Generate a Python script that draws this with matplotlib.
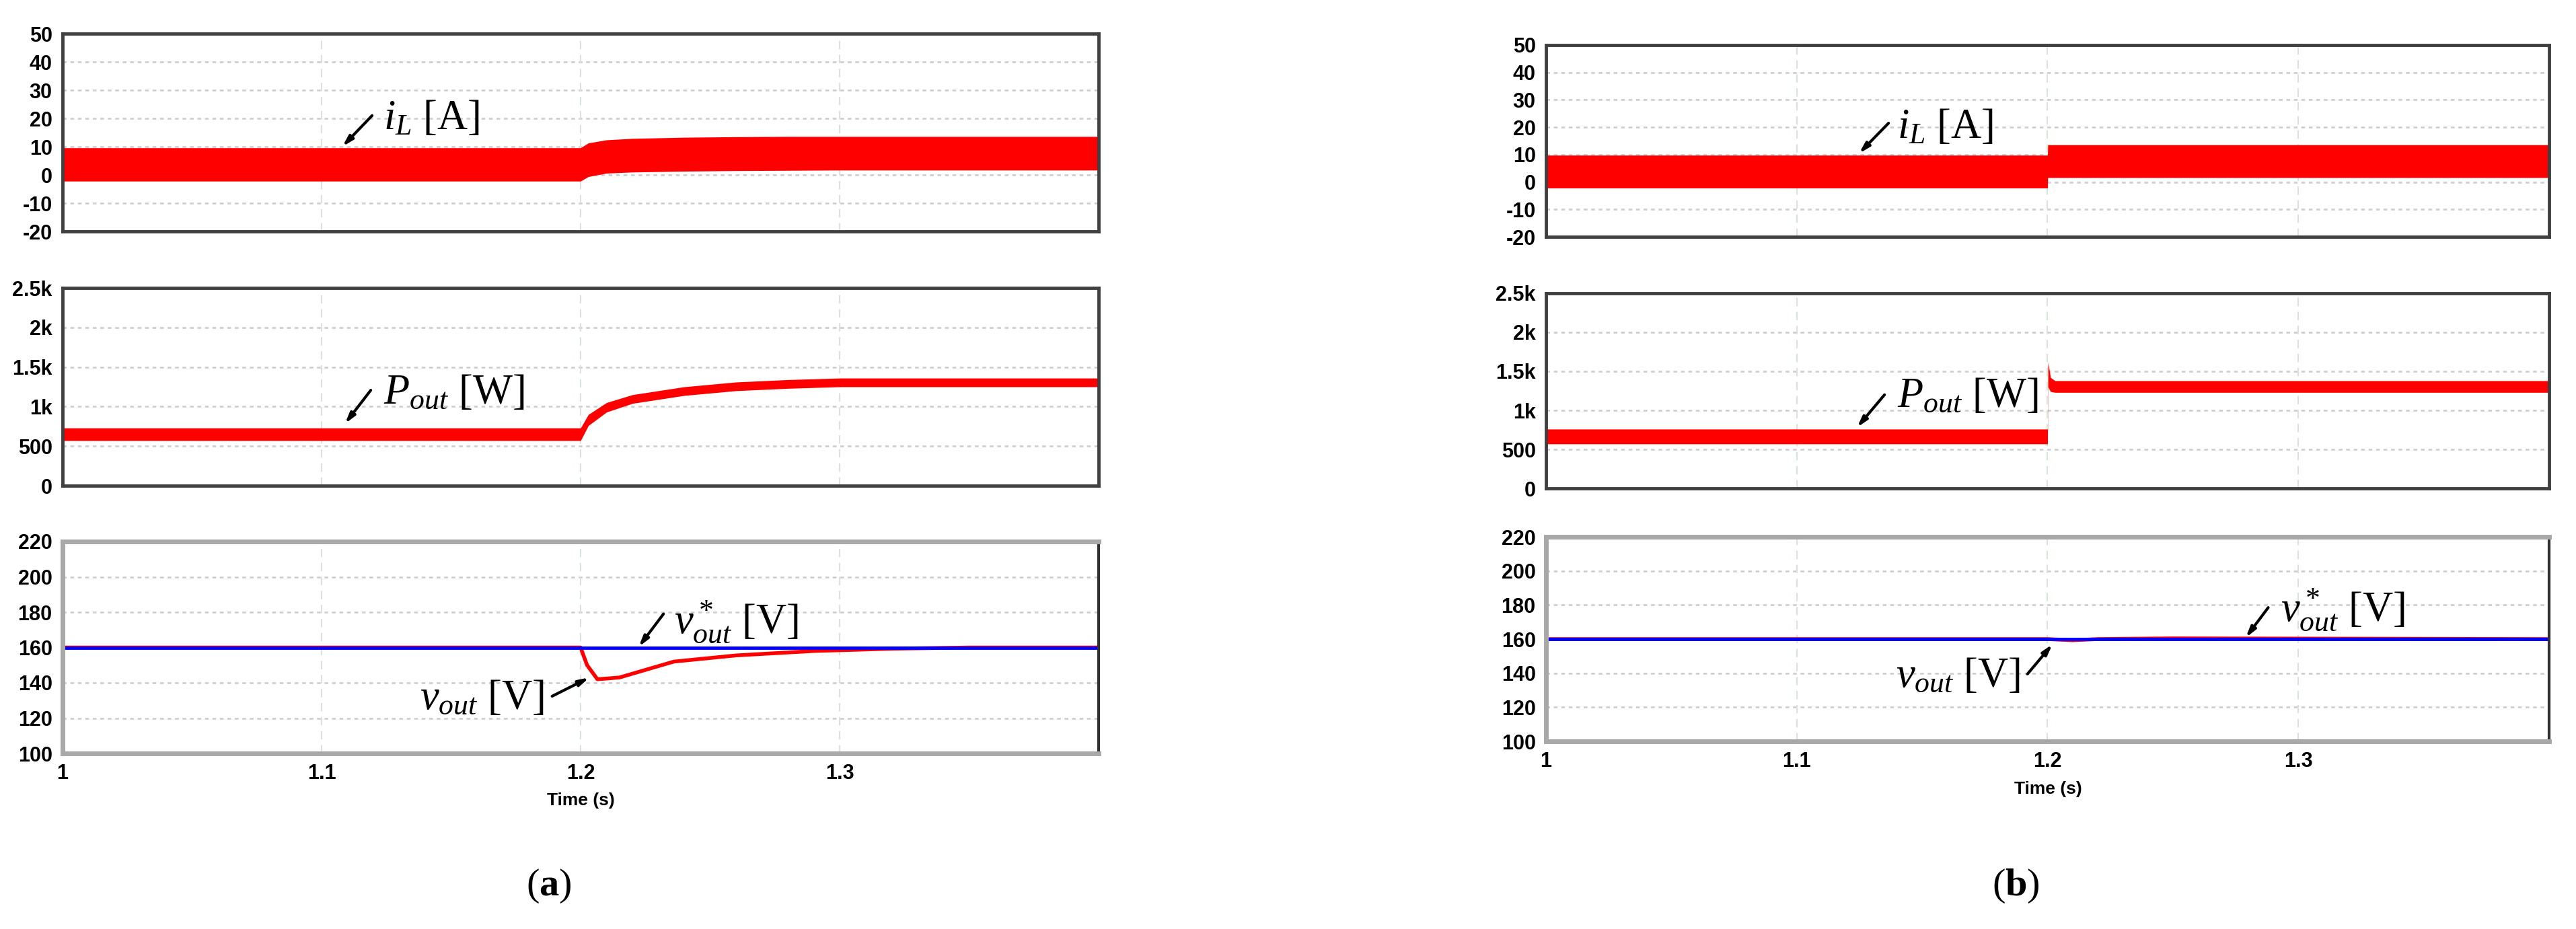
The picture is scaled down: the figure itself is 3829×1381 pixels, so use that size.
import matplotlib
matplotlib.use("Agg")
import matplotlib.pyplot as plt

plt.rcParams['mathtext.fontset'] = 'custom'
plt.rcParams['mathtext.rm'] = 'Liberation Serif'
plt.rcParams['mathtext.it'] = 'Liberation Serif:italic'
plt.rcParams['mathtext.bf'] = 'Liberation Serif:bold'

# ---- data ----
# (a) slow response
t_a = [1.0, 1.2, 1.203, 1.21, 1.22, 1.24, 1.26, 1.28, 1.30, 1.4]
iL_a_hi = [9.6, 9.6, 11.3, 12.4, 12.9, 13.3, 13.5, 13.6, 13.6, 13.6]
iL_a_lo = [-2.2, -2.2, -0.6, 0.6, 1.0, 1.3, 1.5, 1.6, 1.7, 1.7]
P_a_hi = [730, 730, 900, 1050, 1150, 1250, 1310, 1340, 1360, 1360]
P_a_lo = [570, 570, 760, 930, 1040, 1140, 1200, 1230, 1250, 1250]

t_va = [1.0, 1.2, 1.2025, 1.2065, 1.215, 1.236, 1.26, 1.29, 1.32, 1.35, 1.4]
vout_a = [160, 160, 150, 142, 143, 152, 155.5, 158, 159.3, 160, 160]

# (b) fast response
t_b = [1.0, 1.2, 1.2001, 1.4]
iL_b_hi = [9.8, 9.8, 13.6, 13.6]
iL_b_lo = [-2.2, -2.2, 1.6, 1.6]
t_Pb = [1.0, 1.2, 1.2002, 1.2012, 1.203, 1.4]
P_b_hi = [760, 760, 1620, 1420, 1380, 1380]
P_b_lo = [570, 570, 1300, 1240, 1230, 1230]

t_vb = [1.0, 1.2, 1.21, 1.22, 1.25, 1.4]
vout_b = [160, 160, 159.3, 160, 160.4, 160]

t_ref = [1.0, 1.4]
vref = [160, 160]

iL_ticks = [-20, -10, 0, 10, 20, 30, 40, 50]
iL_labels = ['-20', '-10', '0', '10', '20', '30', '40', '50']
P_ticks = [0, 500, 1000, 1500, 2000, 2500]
P_labels = ['0', '500', '1k', '1.5k', '2k', '2.5k']
v_ticks = [100, 120, 140, 160, 180, 200, 220]
v_labels = ['100', '120', '140', '160', '180', '200', '220']
t_ticks = [1.0, 1.1, 1.2, 1.3]
t_labels = ['1', '1.1', '1.2', '1.3']

W, H = 3830, 1381
fig = plt.figure(figsize=(W / 100, H / 100), dpi=100)

def box(x0, x1, y0, y1):
    return [x0 / W, 1 - y1 / H, (x1 - x0) / W, (y1 - y0) / H]

tick_font = dict(family='Liberation Sans', weight='bold', size=22)
ann_font = dict(family='Liberation Serif', size=45)

def setup(ax, yt, yl, ylim, bottom=False):
    ax.set_xlim(1.0, 1.4)
    ax.set_ylim(*ylim)
    ax.set_yticks(yt)
    ax.set_yticklabels(yl, **tick_font)
    ax.set_xticks(t_ticks)
    if bottom:
        ax.set_xticklabels(t_labels, **tick_font)
    else:
        ax.set_xticklabels([])
    ax.tick_params(length=0, pad=11)
    for y in yt[1:-1]:
        ax.axhline(y, color='#cfcfcf', lw=2, ls=(0, (2, 2)), zorder=0)
    for x in t_ticks[1:]:
        ax.axvline(x, color='#d8e4d8', lw=1.5, ls=(0, (6, 4)), zorder=0)
    if bottom:
        for s in ['top', 'bottom', 'left']:
            ax.spines[s].set_color('#a8a8a8')
            ax.spines[s].set_linewidth(5)
        ax.spines['right'].set_color('#303030')
        ax.spines['right'].set_linewidth(3)
    else:
        for s in ax.spines.values():
            s.set_color('#404040')
            s.set_linewidth(3.5)

def arrow(ax, head, tail):
    ax.annotate('', xy=head, xytext=tail,
                arrowprops=dict(arrowstyle='-|>,head_length=0.9,head_width=0.25',
                                color='black', lw=3, shrinkA=0, shrinkB=0))

# ---------- panel (a) ----------
ax1 = fig.add_axes(box(93, 1633, 50, 344))
setup(ax1, iL_ticks, iL_labels, (-20, 50))
ax1.fill_between(t_a, iL_a_lo, iL_a_hi, color='red', lw=0)
arrow(ax1, (1.108, 10), (1.1195, 21))
ax1.text(1.124, 16.3, r'$i_L$ [A]', va='baseline', ha='left', **ann_font)

ax2 = fig.add_axes(box(93, 1633, 428, 722))
setup(ax2, P_ticks, P_labels, (0, 2500))
ax2.fill_between(t_a, P_a_lo, P_a_hi, color='red', lw=0)
arrow(ax2, (1.109, 782), (1.119, 1207))
ax2.text(1.124, 1040, r'$P_{out}$ [W]', va='baseline', ha='left', **ann_font)

ax3 = fig.add_axes(box(93, 1633, 805, 1120))
setup(ax3, v_ticks, v_labels, (100, 220), bottom=True)
ax3.plot(t_va, vout_a, color='red', lw=4)
ax3.plot(t_ref, vref, color='#0000ff', lw=3.5)
arrow(ax3, (1.2034, 143), (1.189, 132.4))
ax3.text(1.186, 125.1, r'$v_{out}$ [V]', va='baseline', ha='right', **ann_font)
arrow(ax3, (1.2224, 160.3), (1.232, 179))
ax3.text(1.236, 168, r'$v^*_{out}$ [V]', va='baseline', ha='left', **ann_font)

# ---------- panel (b) ----------
bx1 = fig.add_axes(box(2298, 3789, 67, 352))
setup(bx1, iL_ticks, iL_labels, (-20, 50))
bx1.fill_between(t_b, iL_b_lo, iL_b_hi, color='red', lw=0)
arrow(bx1, (1.1248, 10.4), (1.1366, 21.5))
bx1.text(1.140, 16.0, r'$i_L$ [A]', va='baseline', ha='left', **ann_font)

bx2 = fig.add_axes(box(2298, 3789, 436, 726))
setup(bx2, P_ticks, P_labels, (0, 2500))
bx2.fill_between(t_Pb, P_b_lo, P_b_hi, color='red', lw=0)
arrow(bx2, (1.124, 780), (1.135, 1200))
bx2.text(1.140, 1040, r'$P_{out}$ [W]', va='baseline', ha='left', **ann_font)

bx3 = fig.add_axes(box(2298, 3789, 798, 1102))
setup(bx3, v_ticks, v_labels, (100, 220), bottom=True)
bx3.plot(t_vb, vout_b, color='red', lw=4)
bx3.plot(t_ref, vref, color='#0000ff', lw=3.5)
arrow(bx3, (1.202, 157), (1.192, 139.5))
bx3.text(1.189, 131.8, r'$v_{out}$ [V]', va='baseline', ha='right', **ann_font)
arrow(bx3, (1.279, 160.8), (1.288, 178.5))
bx3.text(1.293, 170.4, r'$v^*_{out}$ [V]', va='baseline', ha='left', **ann_font)

# axis titles and sub-captions
fig.text(863 / W, 1 - 1190 / H, 'Time (s)', ha='center', va='center',
         family='Liberation Sans', weight='bold', size=19)
fig.text(3044 / W, 1 - 1173 / H, 'Time (s)', ha='center', va='center',
         family='Liberation Sans', weight='bold', size=19)
fig.text(816 / W, 1 - 1317 / H, r'($\mathbf{a}$)', ha='center', va='center',
         family='Liberation Serif', size=42)
fig.text(2996 / W, 1 - 1317 / H, r'($\mathbf{b}$)', ha='center', va='center',
         family='Liberation Serif', size=42)

fig.savefig('out.png', dpi=100, facecolor='white')
